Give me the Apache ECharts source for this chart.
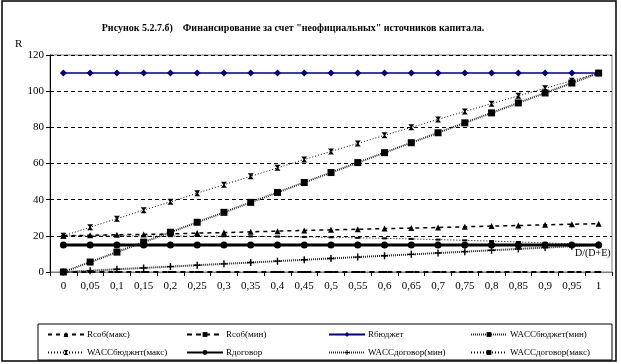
<!DOCTYPE html>
<html><head><meta charset="utf-8">
<script src="https://cdn.jsdelivr.net/npm/echarts@6/dist/echarts.min.js"></script>
<style>html,body{margin:0;padding:0;background:#fff}#c{width:621px;height:364px}</style>
</head><body><div id="c"></div>
<script>
var categories = ['0','0,05','0,1','0,15','0,2','0,25','0,3','0,35','0,4','0,45','0,5','0,55','0,6','0,65','0,7','0,75','0,8','0,85','0,9','0,95','1'];
var rsobMax = [20,20.3,20.6,20.8,21.0,21.5,21.8,22.2,22.6,23.0,23.3,23.6,24.0,24.3,24.6,25.0,25.4,25.7,26.1,26.4,26.7];
var rsobMin = [0,0,0,0,0,0,0,0,0,0,0,0,0,0,0,0,0,0,0,0,0];
var rBudget = [110,110,110,110,110,110,110,110,110,110,110,110,110,110,110,110,110,110,110,110,110];
var waccBudgetMin = [0,5.5,11,16.5,22,27.5,33,38.5,44,49.5,55,60.5,66,71.5,77,82.5,88,93.5,99,104.5,110];
var waccBudgetMax = [20,24.8,29.5,34.2,38.8,43.6,48.3,52.9,57.6,62.2,66.7,71.1,75.6,80.0,84.4,88.8,93.1,97.4,101.6,105.8,110];
var rDogovor = [15,15,15,15,15,15,15,15,15,15,15,15,15,15,15,15,15,15,15,15,15];
var waccDogMin = [0,0.75,1.5,2.25,3,3.75,4.5,5.25,6,6.75,7.5,8.25,9,9.75,10.5,11.25,12,12.75,13.5,14.25,15];
var waccDogMax = [20,20.0,20.0,19.9,19.8,19.9,19.8,19.7,19.6,19.4,19.2,18.9,18.6,18.3,17.9,17.5,17.1,16.6,16.1,15.6,15];
var yTicks = [0,20,40,60,80,100,120];

var names = ['Rсоб(макс)','Rсоб(мин)','Rбюджет','WACCбюджет(мин)','WACCбюджнт(макс)','Rдоговор','WACCдоговор(мин)','WACCдоговор(макс)'];
var FF = '"Liberation Serif","Times New Roman",serif';
var starPath = 'path://M0,0 L10,0 L6,5 L10,10 L0,10 L4,5 Z';
var plusPath = 'path://M4,0 H6 V4 H10 V6 H6 V10 H4 V6 H0 V4 H4 Z';

var colX = [47, 186, 328, 470];
var rowY = [330, 348];
var legends = names.map(function(n, i){
  return {
    data:[n], left: colX[i%4], top: rowY[Math.floor(i/4)], padding:0,
    itemWidth: 36, itemHeight: 6, itemGap: 0, selectedMode:false,
    textStyle:{fontFamily:FF, fontSize:9, color:'#000', padding:[0,0,0,-2]}
  };
});

var chart = echarts.init(document.getElementById('c'), null, {renderer:'canvas'});
chart.setOption({
  animation:false,
  backgroundColor:'#fff',
  title:{text:'Рисунок 5.2.7.б)    Финансирование за счет "неофициальных" источников капитала.',
    left: 288, top: 18, textAlign:'center',
    textStyle:{fontFamily:FF, fontSize:10, fontWeight:'bold', color:'#000'}},
  legend: legends,
  grid:{left:50, right:9, top:55, bottom:92, show:true, borderColor:'#808080', borderWidth:1},
  xAxis:{type:'category', data:categories, boundaryGap:true,
    axisLine:{lineStyle:{color:'#808080', width:1}},
    axisTick:{show:true, interval:0, length:4, lineStyle:{color:'#000'}},
    axisLabel:{interval:0, fontFamily:FF, fontSize:11, color:'#000', margin:9},
    splitLine:{show:false}},
  yAxis:{type:'value', min:0, max:120, interval:20,
    axisLine:{show:true, lineStyle:{color:'#000', width:1}},
    axisTick:{show:true, length:4, lineStyle:{color:'#000'}},
    axisLabel:{fontFamily:FF, fontSize:11, color:'#000', margin:6},
    splitLine:{show:true, lineStyle:{color:'#000', type:[4,3], width:1}}},
  graphic:[
    {type:'rect', shape:{x:2, y:1, width:614, height:360}, style:{fill:'none', stroke:'#000', lineWidth:1.5}, silent:true, z:-1},
    {type:'rect', shape:{x:38, y:324, width:574, height:36}, style:{fill:'none', stroke:'#000', lineWidth:1}, silent:true},
    {type:'text', left:15, top:39, style:{text:'R', font:'11px "Liberation Serif", serif', fill:'#000'}},
    {type:'text', left:575, top:248, style:{text:'D/(D+E)', font:'10px "Liberation Serif", serif', fill:'#000'}}
  ],
  series:[
    {name:names[0], type:'line', data:rsobMax, symbol:'triangle', symbolSize:6,
      lineStyle:{color:'#000', width:1.5, type:[4,4]}, itemStyle:{color:'#000'}, z:3},
    {name:names[1], type:'line', data:rsobMin, symbol:'rect', symbolSize:[5,2],
      lineStyle:{color:'#000', width:2, type:[5,4]}, itemStyle:{color:'#000'}, z:3},
    {name:names[2], type:'line', data:rBudget, symbol:'diamond', symbolSize:7,
      lineStyle:{color:'#000080', width:1.5}, itemStyle:{color:'#000080'}, z:4},
    {name:names[3], type:'line', data:waccBudgetMin, symbol:'rect', symbolSize:7,
      lineStyle:{color:'#222', width:2, type:[1,1]}, itemStyle:{color:'#000'}, z:5},
    {name:names[4], type:'line', data:waccBudgetMax, symbol:starPath, symbolSize:6,
      lineStyle:{color:'#000', width:1, type:[1,2]}, itemStyle:{color:'#000'}, z:3},
    {name:names[5], type:'line', data:rDogovor, symbol:'circle', symbolSize:7,
      lineStyle:{color:'#000', width:3}, itemStyle:{color:'#000'}, z:4},
    {name:names[6], type:'line', data:waccDogMin, symbol:plusPath, symbolSize:7,
      lineStyle:{color:'#222', width:2, type:[1,1]}, itemStyle:{color:'#000'}, z:3},
    {name:names[7], type:'line', data:waccDogMax, symbol:'rect', symbolSize:[5,2],
      lineStyle:{color:'#000', width:1, type:[1,2]}, itemStyle:{color:'#000'}, z:3}
  ]
});
</script></body></html>
